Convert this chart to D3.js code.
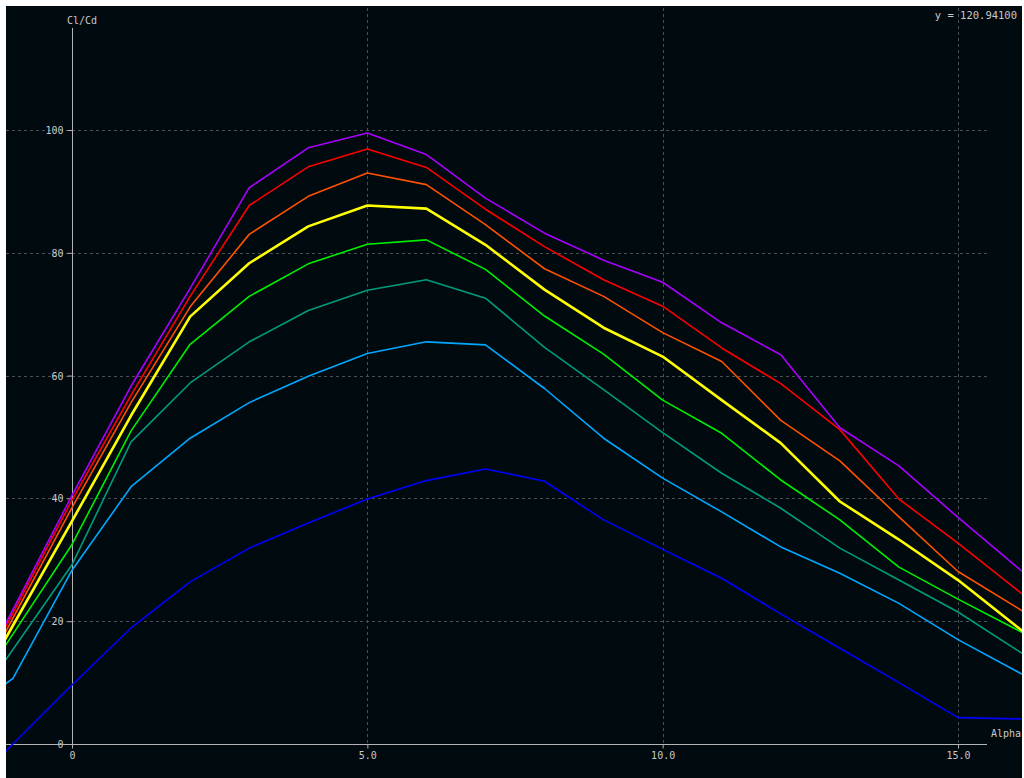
<!DOCTYPE html>
<html>
<head>
<meta charset="utf-8">
<script src="https://cdn.jsdelivr.net/npm/d3@7"></script>
<style>
  html, body { margin: 0; padding: 0; background: #ffffff; }
  svg { display: block; }
  text { font-family: "DejaVu Sans Mono", "Liberation Mono", monospace; }
</style>
</head>
<body>
<svg id="chart" width="1024" height="778"></svg>
<script>
// ---- data ----
const alpha = [-2, -1, 0, 1, 2, 3, 4, 5, 6, 7, 8, 9, 10, 11, 12, 13, 14, 15, 16, 17];
const seriesNames = ["s1", "s2", "s3", "s4", "s5", "s6", "s7", "s8"];
const seriesColors = ["#0000ff", "#00a8ff", "#009b7c", "#00ee00", "#ffff00", "#ff5200", "#ff0000", "#a800ff"];
const blueVals   = [-9.4, 0.0, 9.6, 18.9, 26.4, 31.9, 36.0, 39.9, 42.9, 44.8, 42.8, 36.5, 31.7, 27.0, 21.2, 15.6, 10.0, 4.3, 4.1, 3.9];
const cyanVals   = [3.4, 10.7, 28.3, 41.9, 49.8, 55.6, 59.9, 63.6, 65.5, 65.0, 57.9, 49.8, 43.3, 37.8, 32.1, 27.8, 22.9, 17.0, 11.8, 6.6];
const tealVals   = [1.6, 15.4, 29.2, 49.2, 58.8, 65.5, 70.6, 73.9, 75.6, 72.6, 64.6, 57.7, 50.7, 44.1, 38.4, 31.9, 26.7, 21.5, 15.3, 9.1];
const greenVals  = [3.3, 17.9, 32.5, 51.0, 65.1, 72.9, 78.2, 81.4, 82.1, 77.3, 69.7, 63.5, 56.0, 50.6, 43.0, 36.5, 28.8, 23.6, 18.6, 13.6];
const yellowVals = [2.3, 19.3, 36.3, 53.5, 69.6, 78.3, 84.3, 87.7, 87.2, 81.3, 74.0, 67.8, 63.1, 56.0, 49.0, 39.5, 33.3, 26.7, 19.1, 11.5];
const orangeVals = [2.4, 20.5, 38.5, 55.6, 71.2, 83.0, 89.2, 93.0, 91.1, 84.6, 77.4, 72.9, 67.0, 62.3, 52.7, 46.1, 37.0, 28.1, 22.2, 16.3];
const redVals    = [2.8, 21.3, 39.7, 56.8, 72.9, 87.7, 94.0, 96.9, 93.9, 87.1, 81.0, 75.6, 71.3, 64.5, 58.7, 51.2, 39.9, 32.7, 25.1, 17.5];
const purpleVals = [3.3, 21.9, 40.5, 58.3, 74.2, 90.6, 97.1, 99.5, 96.0, 88.9, 83.2, 78.8, 75.2, 68.6, 63.4, 51.5, 45.3, 36.9, 28.8, 20.7];
const seriesValues = [blueVals, cyanVals, tealVals, greenVals, yellowVals, orangeVals, redVals, purpleVals];
const xTicks = [0, 5, 10, 15];
const yTicks = [0, 20, 40, 60, 80, 100];
const xTitle = "Alpha";
const yTitle = "Cl/Cd";
const readout = "y = 120.94100";

// ---- layout ----
const svg = d3.select("#chart");
const panel = { x0: 6, y0: 6, x1: 1022, y1: 778 };
const x = d3.scaleLinear().domain([0, 15]).range([72, 958]);
const y = d3.scaleLinear().domain([0, 100]).range([744, 130]);
const axisColor = "#b4b4b4";
const textColor = "#c8c8c8";
const gridColor = "#4a4f52";

svg.append("rect")
  .attr("x", panel.x0).attr("y", panel.y0)
  .attr("width", panel.x1 - panel.x0).attr("height", panel.y1 - panel.y0)
  .attr("fill", "#010a0f");

svg.append("defs").append("clipPath").attr("id", "clip")
  .append("rect")
  .attr("x", panel.x0).attr("y", panel.y0)
  .attr("width", panel.x1 - panel.x0).attr("height", panel.y1 - panel.y0);

// grid
const grid = svg.append("g");
grid.selectAll("line.h").data(yTicks.filter(d => d > 0)).join("line")
  .attr("x1", panel.x0).attr("x2", 987)
  .attr("y1", d => Math.round(y(d)) + 0.5).attr("y2", d => Math.round(y(d)) + 0.5)
  .attr("stroke", gridColor).attr("stroke-width", 1).attr("stroke-dasharray", "3,3");
grid.selectAll("line.v").data(xTicks.filter(d => d > 0)).join("line")
  .attr("x1", d => Math.round(x(d)) + 0.5).attr("x2", d => Math.round(x(d)) + 0.5)
  .attr("y1", 8).attr("y2", y(0))
  .attr("stroke", gridColor).attr("stroke-width", 1).attr("stroke-dasharray", "3,3");

// axes
const yAxis = d3.axisLeft(y).tickValues(yTicks).tickSize(5).tickPadding(4).tickFormat(d3.format("d"));
const gy = svg.append("g").attr("transform", `translate(${Math.round(x(0)) + 0.5},0)`).call(yAxis);
const xAxis = d3.axisBottom(x).tickValues(xTicks).tickSize(4).tickPadding(3)
  .tickFormat(d => d === 0 ? "0" : d3.format(".1f")(d));
const gx = svg.append("g").attr("transform", `translate(0,${Math.round(y(0)) + 0.5})`).call(xAxis);
[gx, gy].forEach(g => {
  g.select(".domain").remove();
  g.selectAll(".tick line").attr("stroke", axisColor);
  g.selectAll(".tick text").attr("fill", textColor).style("font-size", "10px")
    .style("font-family", "'DejaVu Sans Mono', monospace");
});
gy.selectAll(".tick text").attr("dy", "0.35em");

svg.append("line")
  .attr("x1", Math.round(x(0)) + 0.5).attr("x2", Math.round(x(0)) + 0.5)
  .attr("y1", 28).attr("y2", y(0) + 4)
  .attr("stroke", axisColor).attr("stroke-width", 1);
svg.append("line")
  .attr("x1", panel.x0).attr("x2", 987)
  .attr("y1", Math.round(y(0)) + 0.5).attr("y2", Math.round(y(0)) + 0.5)
  .attr("stroke", axisColor).attr("stroke-width", 1);

// lines
const line = d3.line().x((d, i) => x(alpha[i])).y(d => y(d));
const lg = svg.append("g").attr("clip-path", "url(#clip)");
seriesValues.forEach((vals, k) => {
  lg.append("path")
    .datum(vals)
    .attr("d", line)
    .attr("fill", "none")
    .attr("stroke", seriesColors[k])
    .attr("stroke-width", seriesNames[k] === "s5" ? 2.6 : 1.6)
    .attr("stroke-linejoin", "round");
});

// titles
svg.append("text").attr("x", 67).attr("y", 24).attr("fill", textColor)
  .style("font-size", "10px").text(yTitle);
svg.append("text").attr("x", 991).attr("y", 737).attr("fill", textColor)
  .style("font-size", "10px").text(xTitle);
svg.append("text").attr("x", 1017).attr("y", 19).attr("fill", textColor)
  .attr("text-anchor", "end").style("font-size", "10.5px").text(readout);
</script>
</body>
</html>
